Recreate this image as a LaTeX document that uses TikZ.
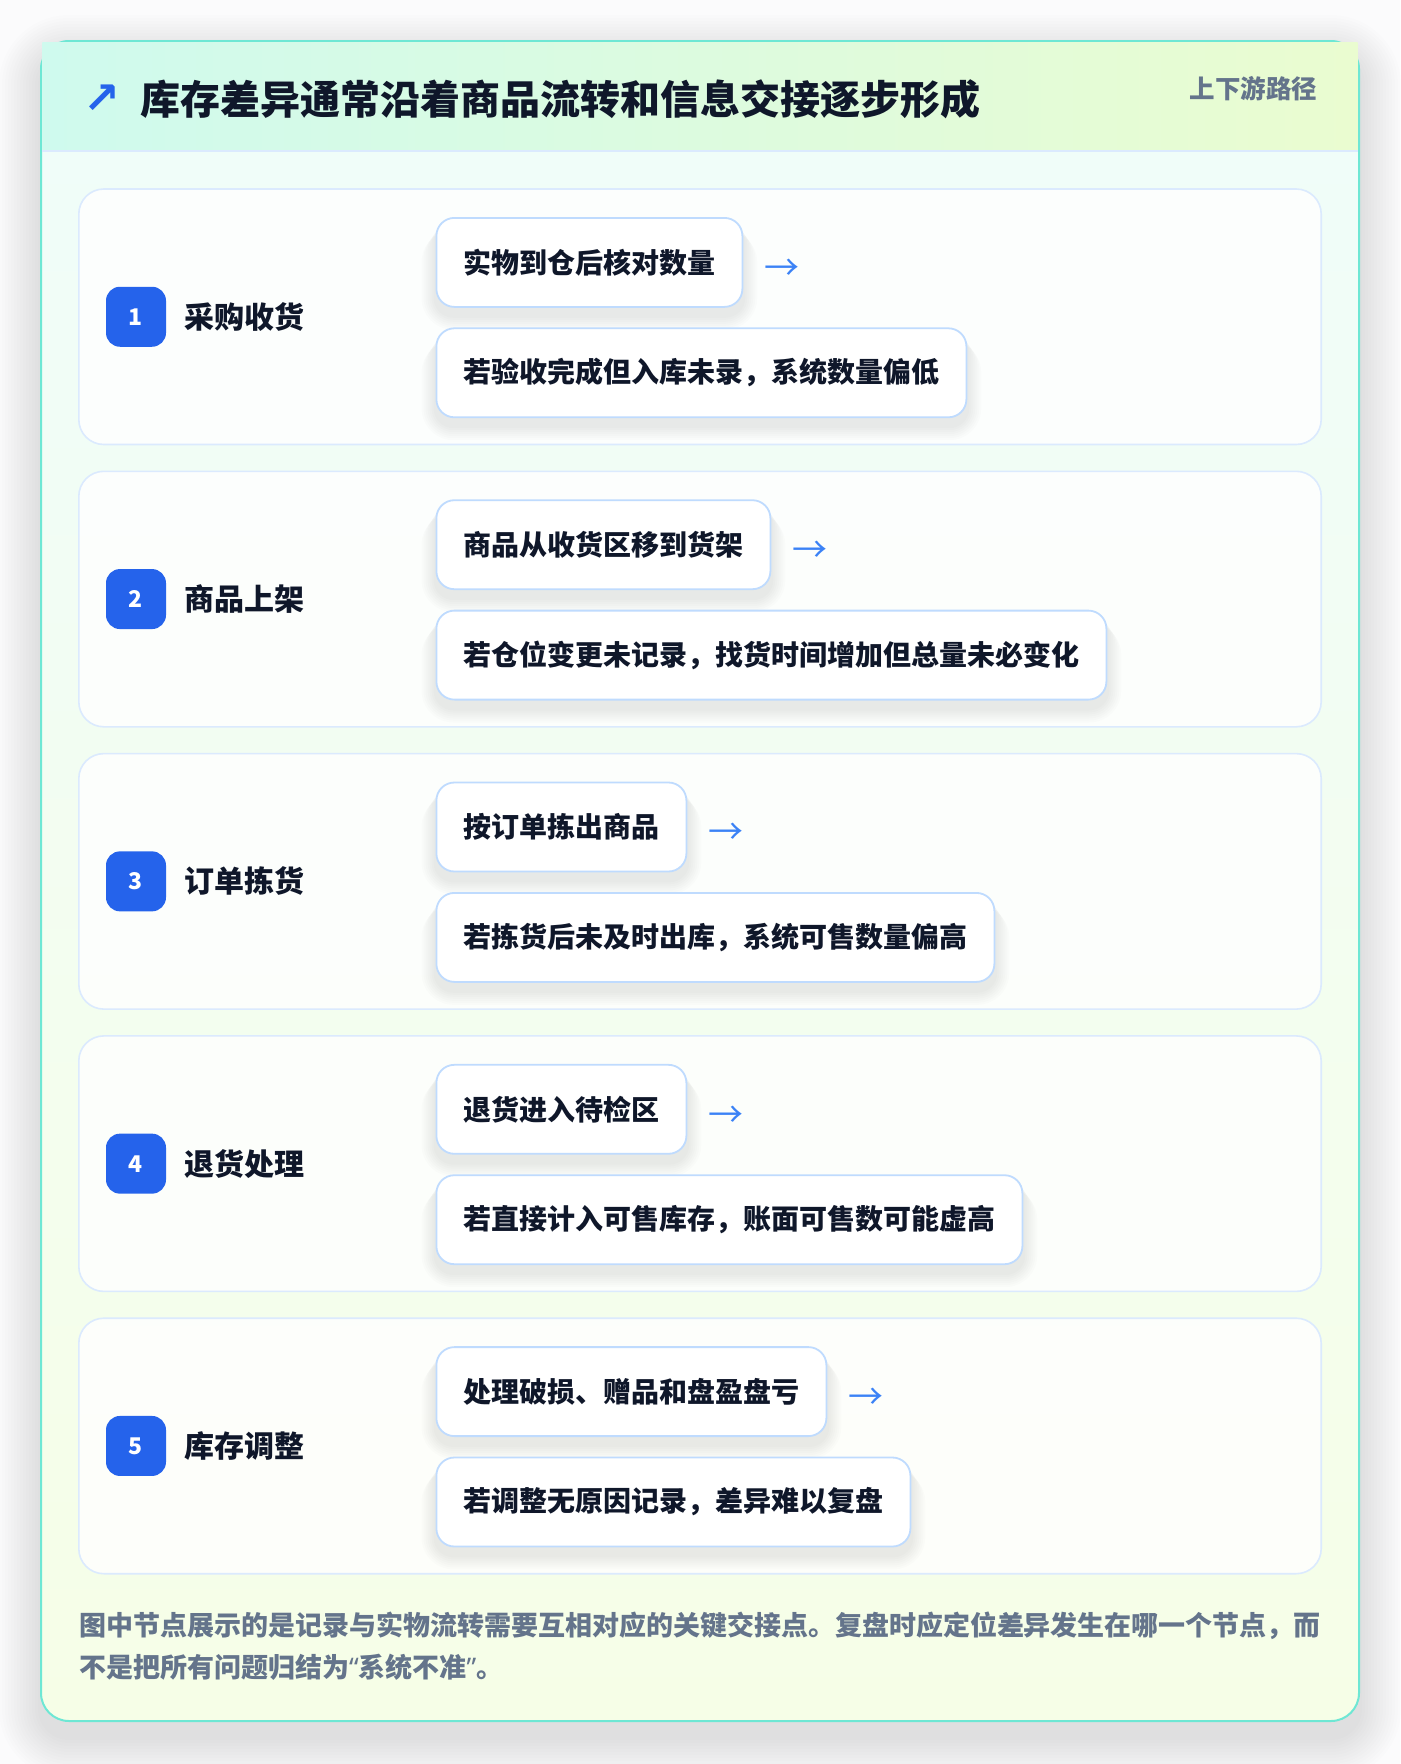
\documentclass[tikz,border=0pt]{standalone}
\usepackage{fontspec}
\setmainfont{Noto Sans CJK SC}
\newfontfamily\symfont{DejaVu Sans}
\newfontfamily\latinfont{Noto Sans}
\usetikzlibrary{calc}
\definecolor{pagebg}{HTML}{FBFBFC}
\definecolor{ink}{HTML}{0F172A}
\definecolor{muted}{HTML}{64748B}
\definecolor{accent}{HTML}{2563EB}
\definecolor{arrowc}{HTML}{3B82F6}
\definecolor{rim}{HTML}{6EE7D4}
\definecolor{headl}{HTML}{CFFAEE}
\definecolor{headr}{HTML}{EAFCD0}
\definecolor{bodytop}{HTML}{F0FDF9}
\definecolor{bodybot}{HTML}{F6FEE7}
\definecolor{rulec}{HTML}{DBEAFE}
\definecolor{cardline}{HTML}{DBEAFE}
\definecolor{boxline}{HTML}{BFDBFE}
\pgfdeclarelayer{bg}
\pgfdeclarelayer{shd}
\pgfsetlayers{bg,shd,main}
\begin{document}
\begin{tikzpicture}[x=1pt,y=-1pt,
  card/.style={draw=cardline, line width=1.6pt, fill=white, fill opacity=0.8,
    rounded corners=25pt, minimum width=1242.4pt, minimum height=255.5pt, inner sep=0pt},
  badge/.style={fill=accent, rounded corners=14pt, minimum size=60pt, inner sep=0pt,
    text=white, font=\bfseries\fontsize{23}{23}\selectfont},
  steplabel/.style={anchor=west, inner sep=0pt, text=ink, font=\bfseries\fontsize{30}{30}\selectfont},
  subbox/.style={draw=boxline, line width=1.8pt, fill=white, rounded corners=18pt,
    anchor=north west, minimum height=89pt, inner xsep=27pt, inner ysep=0pt,
    text=ink, font=\bfseries\fontsize{28}{28}\selectfont},
  arrowtxt/.style={anchor=west, inner sep=0pt, text=arrowc, font=\fontsize{35}{35}\selectfont},
  boxshadow/.style={black, opacity=0.010}
]
\useasboundingbox (0,0) rectangle (1400,1764);
\begin{pgfonlayer}{bg}
  \fill[pagebg] (0,0) rectangle (1400,1764);
  \foreach \k in {1,...,14} {
    \pgfmathsetmacro\rr{28+\k*3}
    \fill[black, opacity=0.007, rounded corners=\rr pt]
      (41-\k*3, 41-\k*3+16) rectangle (1359+\k*3, 1721+\k*3+16);
  }
  \begin{scope}
    \clip[rounded corners=28pt] (41,41) rectangle (1359,1721);
    \shade[top color=bodytop, bottom color=bodybot] (41,140) rectangle (1359,1721);
  \end{scope}
  \draw[rim, line width=2pt, rounded corners=28pt] (41,41) rectangle (1359,1721);
  \shade[left color=headl, right color=headr] (42.3,42.3) rectangle (1357.5,150.7);
  \draw[rulec, line width=1.6pt] (42.3,150.7) -- (1357.5,150.7);
\end{pgfonlayer}

\node[inner sep=0pt, text=accent, font=\symfont\bfseries\fontsize{44}{44}\selectfont] (icon) at (102,99) {↗};
\node[anchor=west, inner sep=0pt, text=ink, font=\bfseries\fontsize{40}{40}\selectfont] (title) at (140.7,99)
  {库存差异通常沿着商品流转和信息交接逐步形成};
\node[anchor=east, inner sep=0pt, text=muted, font=\bfseries\fontsize{25.5}{25.5}\selectfont] (tag) at (1317.5,89)
  {上下游路径};

\foreach \i/\lab/\ta/\tb in {
  1/采购收货/实物到仓后核对数量/若验收完成但入库未录，系统数量偏低,
  2/商品上架/商品从收货区移到货架/若仓位变更未记录，找货时间增加但总量未必变化,
  3/订单拣货/按订单拣出商品/若拣货后未及时出库，系统可售数量偏高,
  4/退货处理/退货进入待检区/若直接计入可售库存，账面可售数可能虚高,
  5/库存调整/处理破损、赠品和盘盈盘亏/若调整无原因记录，差异难以复盘}
{
  \pgfmathsetmacro\T{189+282.3*(\i-1)}
  \pgfmathsetmacro\C{\T+127.75}
  \begin{pgfonlayer}{bg}
    \node[card] (c\i) at (700,\C) {};
  \end{pgfonlayer}
  \node[badge] (n\i) at (136,\C) {\i};
  \node[steplabel] (l\i) at (184.6,\C) {\lab};
  \node[subbox] (a\i) at (435.5,\T+28) {\ta};
  \node[subbox] (b\i) at (435.5,\T+138.4) {\tb};
  \node[arrowtxt] (r\i) at ([xshift=21pt,yshift=-7pt]a\i.east) {→};
  \begin{pgfonlayer}{shd}
    \foreach \k in {1,...,7} {
      \pgfmathsetmacro\rr{18+\k*2}
      \fill[boxshadow, rounded corners=\rr pt]
        ([shift={(-\k*2,3+\k*1.5)}]a\i.north west) rectangle ([shift={(\k*2,8+\k*2)}]a\i.south east);
      \fill[boxshadow, rounded corners=\rr pt]
        ([shift={(-\k*2,3+\k*1.5)}]b\i.north west) rectangle ([shift={(\k*2,8+\k*2)}]b\i.south east);
    }
  \end{pgfonlayer}
}

\node[anchor=north west, inner sep=0pt, align=left, text=muted,
  font=\bfseries\fontsize{27}{42}\selectfont] (note) at (78.8,1611.5)
  {图中节点展示的是记录与实物流转需要互相对应的关键交接点。复盘时应定位差异发生在哪一个节点，而\\
   不是把所有问题归结为{\latinfont “}系统不准{\latinfont ”}。};
\end{tikzpicture}
\end{document}
